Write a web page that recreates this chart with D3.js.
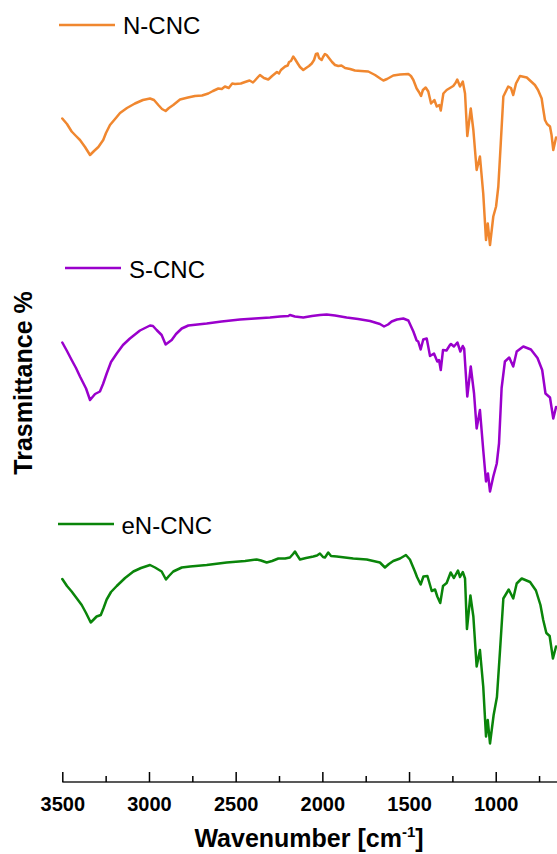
<!DOCTYPE html>
<html>
<head>
<meta charset="utf-8">
<script src="https://cdn.jsdelivr.net/npm/d3@7"></script>
<style>
  html, body { margin: 0; padding: 0; background: #fff; }
  svg { display: block; }
</style>
</head>
<body>
<svg id="chart" width="557" height="854"></svg>
<script>
// FTIR spectra of cellulose nanocrystals, stacked with vertical offsets.
// Each point: [wavenumber (cm-1), transmittance (a.u.)]
const seriesNames = ["N-CNC", "S-CNC", "eN-CNC"];
const seriesColors = ["#F0872F", "#9A00CC", "#0A850A"];
const seriesOffsets = [100, 50, 0];

const nCNC = [
  [3500,32.3],[3473,31.2],[3446,29.7],[3421,28.8],[3398,28.0],[3369,26.6],[3340,25.0],
  [3317,25.8],[3292,26.6],[3264,28.0],[3248,29.4],[3225,31.0],[3186,32.6],[3167,33.4],
  [3127,34.4],[3081,35.3],[3035,36.0],[2994,36.3],[2971,36.0],[2946,35.0],[2925,34.2],
  [2904,33.8],[2885,34.4],[2860,35.0],[2821,36.1],[2775,36.5],[2735,36.8],[2694,36.9],
  [2658,37.3],[2631,37.8],[2600,38.3],[2580,38.2],[2562,38.7],[2540,38.4],[2520,39.3],
  [2504,39.2],[2470,39.3],[2446,39.6],[2420,39.9],[2400,39.5],[2389,39.9],[2371,40.6],
  [2360,41.0],[2337,40.4],[2312,40.1],[2290,40.8],[2262,41.6],[2250,41.3],[2239,42.0],
  [2215,42.7],[2200,42.9],[2192,43.6],[2181,43.8],[2168,44.7],[2158,44.2],[2142,43.3],
  [2129,42.6],[2110,42.0],[2094,42.4],[2077,42.8],[2061,43.3],[2048,44.0],[2037,45.2],
  [2027,45.3],[2019,44.4],[2004,44.0],[1996,44.6],[1985,45.2],[1975,45.0],[1962,44.4],
  [1944,43.6],[1927,43.0],[1908,42.8],[1890,42.9],[1869,42.4],[1840,42.2],[1812,41.9],
  [1777,41.8],[1735,41.7],[1696,41.0],[1662,40.2],[1648,39.9],[1627,40.2],[1591,40.9],
  [1552,41.1],[1504,41.2],[1489,40.8],[1475,40.0],[1456,38.3],[1443,37.6],[1431,36.8],
  [1420,38.0],[1404,38.5],[1389,37.7],[1373,35.3],[1354,36.0],[1340,34.7],[1325,35.0],
  [1317,33.9],[1302,37.3],[1283,38.0],[1245,38.8],[1232,39.4],[1222,40.1],[1206,38.7],
  [1190,39.7],[1177,37.3],[1164,28.8],[1144,34.3],[1129,30.0],[1110,22.0],[1091,24.7],
  [1072,17.3],[1056,8.0],[1046,11.3],[1033,7.0],[1014,12.7],[998,14.7],[985,18.7],
  [971,27.3],[956,36.7],[928,38.7],[912,38.4],[899,37.0],[883,39.3],[860,40.8],
  [821,40.5],[774,39.0],[756,38.0],[735,36.3],[727,34.4],[716,32.0],[704,31.2],
  [687,30.7],[678,29.0],[668,26.0],[652,28.5]
];

const sCNC = [
  [3500,37.5],[3473,35.8],[3446,34.0],[3421,32.4],[3398,30.7],[3363,28.3],[3340,26.0],
  [3311,27.2],[3283,27.7],[3265,29.2],[3244,31.3],[3219,33.6],[3186,35.3],[3150,37.0],
  [3110,38.3],[3052,39.9],[2994,40.9],[2977,40.8],[2956,40.0],[2927,39.0],[2904,37.1],
  [2869,38.0],[2844,39.2],[2811,40.3],[2773,40.9],[2667,41.3],[2581,41.7],[2475,42.1],
  [2389,42.3],[2302,42.5],[2244,42.7],[2196,42.8],[2187,43.0],[2158,42.7],[2110,42.5],
  [2060,42.8],[2014,43.0],[1975,43.1],[1927,42.9],[1860,42.5],[1794,42.2],[1725,41.8],
  [1668,41.2],[1644,40.7],[1621,41.1],[1600,41.7],[1570,42.1],[1533,42.3],[1504,41.9],
  [1475,39.7],[1456,37.9],[1447,37.7],[1433,36.1],[1418,38.1],[1398,38.3],[1379,34.8],
  [1356,35.3],[1337,33.7],[1327,34.0],[1317,32.0],[1304,36.0],[1284,35.9],[1264,37.0],
  [1258,37.2],[1241,36.7],[1221,37.5],[1204,35.7],[1190,36.8],[1182,36.3],[1164,26.7],
  [1144,32.7],[1125,27.3],[1110,20.3],[1091,24.0],[1072,16.0],[1056,9.7],[1045,11.3],
  [1033,7.7],[1014,10.7],[994,13.3],[981,17.3],[966,28.4],[947,33.7],[922,34.5],
  [899,32.7],[879,35.7],[841,36.7],[797,36.1],[759,34.4],[732,32.0],[713,27.3],
  [687,26.5],[668,22.3],[652,24.6]
];

const eNCNC = [
  [3500,40.2],[3473,38.8],[3446,37.7],[3418,36.4],[3388,35.0],[3363,33.4],[3336,31.5],
  [3302,32.7],[3278,33.0],[3262,34.4],[3244,36.1],[3219,37.6],[3186,38.8],[3138,40.4],
  [3090,41.7],[3046,42.4],[2994,43.0],[2965,42.5],[2927,41.7],[2902,40.1],[2885,40.8],
  [2860,41.7],[2811,42.5],[2763,42.7],[2667,43.0],[2552,43.5],[2446,43.8],[2379,44.1],
  [2354,43.9],[2321,43.5],[2290,43.8],[2254,44.3],[2215,44.3],[2187,44.5],[2169,45.2],
  [2158,45.7],[2146,45.0],[2129,44.1],[2094,44.4],[2052,44.7],[2031,44.9],[2014,45.3],
  [1996,44.6],[1985,44.5],[1966,45.5],[1950,44.8],[1917,44.7],[1822,44.3],[1744,44.1],
  [1668,43.5],[1639,42.5],[1616,43.2],[1591,43.8],[1552,44.3],[1518,45.0],[1495,44.1],
  [1466,41.7],[1454,40.6],[1433,39.1],[1417,40.7],[1394,40.8],[1369,37.8],[1350,38.1],
  [1337,36.7],[1320,35.4],[1304,38.8],[1283,39.4],[1260,41.5],[1241,40.4],[1218,41.9],
  [1206,40.6],[1190,41.6],[1177,40.3],[1166,30.2],[1146,36.9],[1129,32.7],[1110,22.7],
  [1091,26.0],[1072,18.7],[1056,8.7],[1046,12.0],[1033,7.3],[1012,13.0],[993,16.6],
  [975,26.0],[956,36.3],[925,38.1],[899,36.3],[879,39.3],[850,40.3],[802,39.6],
  [768,37.9],[742,35.0],[726,32.0],[708,29.4],[689,28.8],[670,24.3],[652,26.7]
];

const seriesData = [nCNC, sCNC, eNCNC];

// Axis ticks and titles
const majorTicks = [3500, 3000, 2500, 2000, 1500, 1000];
const minorTicks = [3250, 2750, 2250, 1750, 1250, 750];
const xTitle = "Wavenumber [cm";
const xTitleSup = "-1";
const yTitle = "Trasmittance %";

const svg = d3.select("#chart");
const plotLeft = 62.3, plotRight = 556.4, plotTop = 20, plotBottom = 782;
const axisRight = 557;

const x = d3.scaleLinear().domain([3500, 650]).range([plotLeft, plotRight]);
const y = d3.scaleLinear().domain([-0.4, 152]).range([plotBottom, plotTop]);

const line = d3.line()
  .x(d => x(d[0]))
  .y(d => y(d[1]))
  .curve(d3.curveLinear);

seriesData.forEach((data, i) => {
  const off = seriesOffsets[i];
  svg.append("path")
    .datum(data.map(d => [d[0], d[1] + off]))
    .attr("d", line)
    .attr("fill", "none")
    .attr("stroke", seriesColors[i])
    .attr("stroke-width", 2.5)
    .attr("stroke-linejoin", "round")
    .attr("stroke-linecap", "round");
});

// Bottom axis: major ticks with labels, minor ticks without
const axisG = svg.append("g").attr("transform", `translate(0,${plotBottom})`);
axisG.append("line")
  .attr("x1", plotLeft).attr("x2", axisRight)
  .attr("y1", 0).attr("y2", 0)
  .attr("stroke", "#222").attr("stroke-width", 1.5);

const majorAxis = d3.axisBottom(x).tickValues(majorTicks).tickSizeInner(-10).tickSizeOuter(0).tickPadding(14).tickFormat(d3.format("d"));
const gMaj = svg.append("g").attr("transform", `translate(0,${plotBottom})`).call(majorAxis);
gMaj.select(".domain").remove();
gMaj.selectAll(".tick line").attr("stroke", "#000").attr("stroke-width", 1.5);
gMaj.selectAll(".tick text")
  .attr("font-family", "Liberation Sans, Arial, sans-serif")
  .attr("font-weight", "bold")
  .attr("font-size", 20)
  .attr("fill", "#000")
  .attr("dy", "0.75em");

const minorAxis = d3.axisBottom(x).tickValues(minorTicks).tickSizeInner(-6).tickSizeOuter(0).tickFormat("");
const gMin = svg.append("g").attr("transform", `translate(0,${plotBottom})`).call(minorAxis);
gMin.select(".domain").remove();
gMin.selectAll(".tick line").attr("stroke", "#000").attr("stroke-width", 1.5);

// Axis titles
const xt = svg.append("text")
  .attr("x", 309)
  .attr("y", 847)
  .attr("text-anchor", "middle")
  .attr("font-family", "Liberation Sans, Arial, sans-serif")
  .attr("font-weight", "bold")
  .attr("font-size", 25)
  .attr("fill", "#000");
xt.append("tspan").text(xTitle);
xt.append("tspan").attr("font-size", 15).attr("dy", -10).text(xTitleSup);
xt.append("tspan").attr("dy", 10).text("]");

svg.append("text")
  .attr("transform", `translate(32,383) rotate(-90)`)
  .attr("text-anchor", "middle")
  .attr("font-family", "Liberation Sans, Arial, sans-serif")
  .attr("font-weight", "bold")
  .attr("font-size", 25)
  .attr("fill", "#000")
  .text(yTitle);

// Legend entries, one above each spectrum
const legendPos = [
  { x1: 59, x2: 115, y: 25, tx: 123, ty: 34 },
  { x1: 65, x2: 121, y: 268, tx: 129, ty: 278 },
  { x1: 58, x2: 114, y: 524, tx: 121.5, ty: 534 }
];
seriesNames.forEach((name, i) => {
  const p = legendPos[i];
  svg.append("line")
    .attr("x1", p.x1).attr("x2", p.x2)
    .attr("y1", p.y).attr("y2", p.y)
    .attr("stroke", seriesColors[i]).attr("stroke-width", 2.5);
  svg.append("text")
    .attr("x", p.tx).attr("y", p.ty)
    .attr("font-family", "Liberation Sans, Arial, sans-serif")
    .attr("font-size", 24)
    .attr("fill", "#000")
    .text(name);
});
</script>
</body>
</html>
